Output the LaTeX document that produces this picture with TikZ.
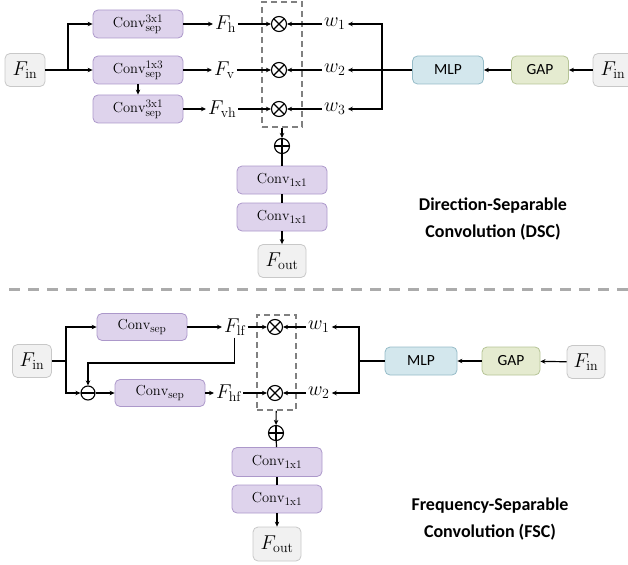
\RequirePackage{fix-cm}
\documentclass[tikz,border=0pt]{standalone}
\usepackage{fontspec}
\newfontfamily\calibri{Carlito}
\usetikzlibrary{arrows.meta,calc}
\DeclareMathSizes{14.5}{14.5}{11.5}{9}
\definecolor{convfill}{RGB}{222,211,236}
\definecolor{convline}{RGB}{172,152,202}
\definecolor{mlpfill}{RGB}{211,231,237}
\definecolor{mlpline}{RGB}{150,188,200}
\definecolor{gapfill}{RGB}{229,235,208}
\definecolor{gapline}{RGB}{182,196,150}
\definecolor{featfill}{RGB}{241,241,241}
\definecolor{featline}{RGB}{200,200,200}
\begin{document}
\begin{tikzpicture}[x=1pt,y=-1pt]
\tikzstyle{every node}+=[inner sep=0pt]
\tikzstyle{conv}=[draw=convline,fill=convfill,line width=0.8pt,rounded corners=5pt,minimum width=90pt,minimum height=28pt,font=\fontsize{14.5}{14.5}\selectfont]
\tikzstyle{feat}=[draw=featline,fill=featfill,line width=0.8pt,rounded corners=5pt,minimum width=40pt,minimum height=33pt,font=\fontsize{20}{20}\selectfont]
\tikzstyle{mlp}=[draw=mlpline,fill=mlpfill,line width=0.8pt,rounded corners=5pt,minimum width=71pt,minimum height=28pt,font=\calibri\fontsize{15.5}{15.5}\selectfont]
\tikzstyle{gap}=[draw=gapline,fill=gapfill,line width=0.8pt,rounded corners=5pt,minimum width=57pt,minimum height=28pt,font=\calibri\fontsize{15.5}{15.5}\selectfont]
\tikzstyle{lbl}=[inner sep=2pt,font=\fontsize{20}{20}\selectfont]
\tikzstyle{mult}=[draw,circle,line width=1.1pt,minimum size=15pt,path picture={\draw[line width=1.1pt] (path picture bounding box.north west) -- (path picture bounding box.south east) (path picture bounding box.south west) -- (path picture bounding box.north east);}]
\tikzstyle{plus}=[draw,circle,line width=1.1pt,minimum size=15pt,path picture={\draw[line width=1.1pt] (path picture bounding box.north) -- (path picture bounding box.south) (path picture bounding box.west) -- (path picture bounding box.east);}]
\tikzstyle{minus}=[draw,circle,line width=1.1pt,minimum size=14pt,path picture={\draw[line width=1.1pt] (path picture bounding box.west) -- (path picture bounding box.east);}]
\tikzstyle{dbox}=[draw=black!50,line width=1.6pt,dash pattern=on 6pt off 4pt]
\tikzstyle{arr}=[line width=1.2pt,-{Stealth[length=5pt,width=4.5pt]}]
\tikzstyle{wire}=[line width=1.2pt]
\tikzstyle{title}=[align=center,font=\calibri\bfseries\fontsize{18}{27}\selectfont]
\useasboundingbox (0,0) rectangle (628,564);

\node[feat] (fin1) at (25,70) {$F_{\mathrm{in}}$};
\node[conv] (c1) at (138,24) {$\mathrm{Conv}^{\mathrm{3x1}}_{\mathrm{sep}}$};
\node[conv] (c2) at (138,70) {$\mathrm{Conv}^{\mathrm{1x3}}_{\mathrm{sep}}$};
\node[conv] (c3) at (138,109) {$\mathrm{Conv}^{\mathrm{3x1}}_{\mathrm{sep}}$};
\node[lbl,anchor=west] (fh) at (213,24) {$F_{\mathrm{h}}$};
\node[lbl,anchor=west] (fv) at (212,70) {$F_{\mathrm{v}}$};
\node[lbl,anchor=west] (fvh) at (206,109) {$F_{\mathrm{vh}}$};
\node[dbox,minimum width=40pt,minimum height=125pt] (box1) at (282,64.5) {};
\foreach \y/\n in {24/1,70/2,109/3} {
  \node[mult] (m\n) at (279,\y) {};
  \node[lbl,anchor=west] (w\n) at (322,\y) {$w_\n$};
}
\node[mlp] (mlp1) at (448,70) {MLP};
\node[gap] (gap1) at (540,70) {GAP};
\node[feat] (fin2) at (613,70) {$F_{\mathrm{in}}$};
\node[plus] (p1) at (282,146) {};
\node[conv] (c4) at (282,180) {$\mathrm{Conv}_{\mathrm{1x1}}$};
\node[conv] (c5) at (282,217) {$\mathrm{Conv}_{\mathrm{1x1}}$};
\node[feat,minimum width=48pt] (fout1) at (282,261) {$F_{\mathrm{out}}$};
\node[title] (dsc) at (493,219) {Direction-Separable\\Convolution (DSC)};
\coordinate (s1) at (68,70);
\coordinate (bus1) at (382,70);

\draw[wire] (fin1) -- (s1);
\draw[arr] (s1) |- (c1);
\draw[arr] (s1) -- (c2);
\draw[arr] (c2) -- (c3);
\draw[arr] (c1) -- (fh);
\draw[arr] (c2) -- (fv);
\draw[arr] (c3) -- (fvh);
\draw[arr] (fh) -- (m1);
\draw[arr] (fv) -- (m2);
\draw[arr] (fvh) -- (m3);
\draw[arr] (w1) -- (m1);
\draw[arr] (w2) -- (m2);
\draw[arr] (w3) -- (m3);
\draw[arr] (fin2) -- (gap1);
\draw[arr] (gap1) -- (mlp1);
\draw[wire] (mlp1) -- (bus1);
\draw[arr] (bus1) |- (w1);
\draw[arr] (bus1) -- (w2);
\draw[arr] (bus1) |- (w3);
\draw[arr] (box1) -- (p1);
\draw[wire] (p1) -- (c4);
\draw[wire] (c4) -- (c5);
\draw[arr] (c5) -- (fout1);

\draw[line width=3pt,color=black!33,dash pattern=on 11pt off 8pt] (9,289) -- (628,289);

\node[feat,minimum width=39pt] (fin3) at (32,361) {$F_{\mathrm{in}}$};
\node[conv,minimum height=27pt] (c6) at (142,327) {$\mathrm{Conv}_{\mathrm{sep}}$};
\node[minus] (sub1) at (88,393) {};
\node[conv,minimum height=27pt] (c7) at (160,393) {$\mathrm{Conv}_{\mathrm{sep}}$};
\node[lbl,anchor=west] (flf) at (222,327) {$F_{\mathrm{lf}}$};
\node[lbl,anchor=west] (fhf) at (214,393) {$F_{\mathrm{hf}}$};
\node[dbox,minimum width=39pt,minimum height=95pt] (box2) at (276.5,362.5) {};
\foreach \y/\n in {327/4,393/5} {
  \node[mult] (m\n) at (275,\y) {};
}
\node[lbl,anchor=west] (w4) at (306,327) {$w_1$};
\node[lbl,anchor=west] (w5) at (306,393) {$w_2$};
\node[mlp,minimum width=72pt] (mlp2) at (421,361) {MLP};
\node[gap,minimum width=58pt] (gap2) at (511,361) {GAP};
\node[feat,minimum width=38pt] (fin4) at (586,362) {$F_{\mathrm{in}}$};
\node[plus] (p2) at (276,433) {};
\node[conv,minimum height=29pt] (c8) at (277,462) {$\mathrm{Conv}_{\mathrm{1x1}}$};
\node[conv] (c9) at (277,499) {$\mathrm{Conv}_{\mathrm{1x1}}$};
\node[feat,minimum width=48pt,minimum height=34pt] (fout2) at (277,544) {$F_{\mathrm{out}}$};
\node[title] (fsc) at (490,519) {Frequency-Separable\\Convolution (FSC)};
\coordinate (s2) at (66,361);
\coordinate (bend) at (88,363);
\coordinate (bus2) at (359,361);

\draw[wire] (fin3) -- (s2);
\draw[arr] (s2) |- (c6);
\draw[arr] (s2) |- (sub1);
\draw[arr] (flf.south) |- (bend) -- (sub1);
\draw[arr] (sub1) -- (c7);
\draw[arr] (c6) -- (flf);
\draw[arr] (c7) -- (fhf);
\draw[arr] (flf) -- (m4);
\draw[arr] (fhf) -- (m5);
\draw[arr] (w4) -- (m4);
\draw[arr] (w5) -- (m5);
\draw[arr] (fin4) -- (gap2);
\draw[arr] (gap2) -- (mlp2);
\draw[wire] (mlp2) -- (bus2);
\draw[arr] (bus2) |- (w4);
\draw[arr] (bus2) |- (w5);
\draw[arr] (box2) -- (p2);
\draw[wire] (p2) -- (c8);
\draw[wire] (c8) -- (c9);
\draw[arr] (c9) -- (fout2);
\end{tikzpicture}
\end{document}
